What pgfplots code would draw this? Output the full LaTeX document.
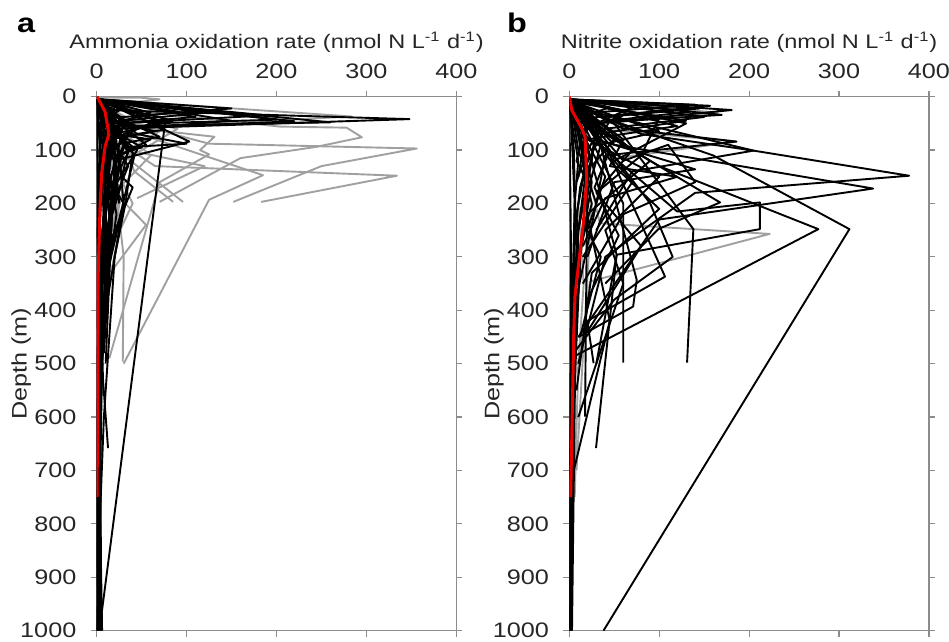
\documentclass[border=0pt]{standalone}
\usepackage{fontspec}
\setmainfont[FakeStretch=1.2]{Liberation Sans}
\usepackage{pgfplots}
\pgfplotsset{compat=1.18}
\definecolor{axgray}{RGB}{140,140,140}
\definecolor{txt}{RGB}{38,38,38}
\definecolor{profgray}{RGB}{160,160,160}
\definecolor{meanred}{RGB}{235,0,0}

\pgfplotsset{
  depthax/.style={
    scale only axis, width=179.8pt, height=267pt,
    anchor=south west,
    xmin=0, xmax=400, ymin=0, ymax=1000, y dir=reverse,
    xtick={0,100,...,400}, ytick={0,100,...,1000},
    xticklabel pos=upper,
    tick align=outside, major tick length=3pt,
    axis line style={axgray, line width=0.6pt},
    every tick/.style={axgray, line width=0.6pt},
    tick label style={font=\fontsize{10.5}{12}\selectfont, text=txt, inner sep=0pt},
    xticklabel shift=6pt,
    yticklabel shift=7pt,
    /pgf/number format/assume math mode=true,
    /pgf/number format/1000 sep={},
    no markers,
  },
  bk/.style={black, line width=0.95pt, line join=round},
  gr/.style={profgray, line width=0.95pt, line join=round},
  mn/.style={meanred, line width=1.5pt, line join=round},
}
\newcommand{\lblfont}{\fontsize{9.8}{11}\selectfont\color{txt}}
\newcommand{\ylblfont}{\fontsize{10.5}{12}\selectfont\color{txt}}

\begin{document}
\begin{tikzpicture}
\useasboundingbox (0,0) rectangle (474.5pt,321pt);

% ---------------- panel a: ammonia oxidation ----------------
\begin{axis}[depthax, name=A, at={(48.35pt,5.65pt)}]
% grey profiles
\addplot[gr] coordinates {(0,2)(50,2)(70,5)(55,8)(15,15)(10,40)};
\addplot[gr] coordinates {(3,5)(283,37)(80,55)(30,80)(15,150)};
\addplot[gr] coordinates {(2,10)(60,30)(204,56)(278,58)(295,76)(244,94)(160,115)(70,197)};
\addplot[gr] coordinates {(5,15)(40,50)(125,88)(356,97)(250,130)(152,197)};
\addplot[gr] coordinates {(3,20)(20,80)(65,130)(334,148)(183,197)};
\addplot[gr] coordinates {(2,20)(30,60)(185,147)(125,193)(30,500)};
\addplot[gr] coordinates {(4,25)(50,60)(131,75)(115,100)(125,108)(70,160)(14,490)};
\addplot[gr] coordinates {(2,10)(45,50)(30,110)(96,197)};
\addplot[gr] coordinates {(3,15)(25,70)(42,140)(85,197)};
\addplot[gr] coordinates {(2,30)(18,120)(30,300)(29,496)};
\addplot[gr] coordinates {(5,30)(90,60)(60,90)(20,130)(40,200)(12,300)};
\addplot[gr] coordinates {(3,40)(40,100)(18,160)(25,250)(8,400)};
\addplot[gr] coordinates {(2,20)(70,65)(35,100)(120,130)(45,190)};
\addplot[gr] coordinates {(1,10)(15,60)(35,80)(10,150)(20,220)(5,350)};
\addplot[gr] coordinates {(4,30)(60,110)(20,180)(55,240)(15,330)};
\addplot[gr] coordinates {(2,20)(22,90)(28,180)(18,260)(10,330)};
\addplot[gr] coordinates {(3,30)(15,110)(25,200)(12,280)};
% black profiles
\addplot[bk] coordinates {(2,5)(10,25)(348,42)(20,60)(10,100)(5,150)(3,200)};
\addplot[bk] coordinates {(3,5)(150,22)(15,40)(8,80)(5,150)};
\addplot[bk] coordinates {(2,5)(189,35)(25,50)(12,100)(8,200)};
\addplot[bk] coordinates {(1,5)(30,25)(103,84)(20,120)(10,200)};
\addplot[bk] coordinates {(5,10)(76,50)(3,1000)};
\addplot[bk] coordinates {(2,5)(25,40)(15,120)(9,250)(5,400)(7,530)(12.6,658)};
\addplot[bk] coordinates {(1,5)(60,30)(20,50)(12,100)(8,200)(4,400)(2,1000)};
\addplot[bk] coordinates {(2,5)(120,30)(30,45)(25,90)(15,200)(6,500)(3,800)(1,1000)};
\addplot[bk] coordinates {(1,5)(90,28)(40,40)(20,60)(25,130)(10,300)(4,600)(5,1000)};
\addplot[bk] coordinates {(2,5)(70,45)(15,80)(30,150)(12,250)(5,500)};
\addplot[bk] coordinates {(3,10)(45,60)(35,70)(15,150)(8,250)};
\addplot[bk] coordinates {(1,10)(25,20)(85,45)(18,70)(22,180)(6,300)};
\addplot[bk] coordinates {(2,5)(40,15)(20,25)(14,60)(45,100)(8,200)};
\addplot[bk] coordinates {(1,5)(10,30)(55,90)(10,120)(15,250)(5,450)};
\addplot[bk] coordinates {(1,5)(8,50)(20,70)(60,80)(25,110)(30,200)(10,400)};
\addplot[bk] coordinates {(2,5)(30,20)(12,40)(42,110)(15,300)(10,500)};
\addplot[bk] coordinates {(1,5)(12,25)(8,50)(35,130)(18,200)(6,500)(2,750)};
\addplot[bk] coordinates {(0.5,5)(5,50)(3,100)(4,300)(2,600)(1,1000)};
\addplot[bk] coordinates {(1,5)(18,40)(10,100)(6,300)(3,700)(6,1000)};
\addplot[bk] coordinates {(2,5)(50,10)(20,15)(10,30)(6,100)(3,200)};
\addplot[bk] coordinates {(1,5)(25,50)(10,70)(12,150)(30,200)(9,350)};
\addplot[bk] coordinates {(3,5)(150,45)(40,60)(20,100)(25,200)};
\addplot[bk] coordinates {(2,5)(260,48)(30,55)(10,100)(5,200)};
\addplot[bk] coordinates {(1,5)(220,46)(20,60)(12,120)};
\addplot[bk] coordinates {(2,5)(8,40)(65,65)(15,80)(10,150)};
\addplot[bk] coordinates {(1,5)(12,30)(70,75)(20,90)(8,150)};
\addplot[bk] coordinates {(2,10)(45,70)(100,88)(30,95)(12,200)};
\addplot[bk] coordinates {(1,10)(20,30)(15,60)(50,95)(20,110)(15,300)};
\addplot[bk] coordinates {(0,0)(8,20)(5,60)(15,120)(7,240)(3,400)};
\addplot[bk] coordinates {(1,0)(3,30)(12,80)(4,150)(10,250)(2,500)};
\addplot[bk] coordinates {(2,5)(25,10)(15,30)(20,70)(12,130)(22,220)(14,320)(8,480)};
\addplot[bk] coordinates {(0,5)(5,40)(25,60)(30,90)(20,180)(6,350)};
\addplot[bk] coordinates {(1,5)(35,100)(28,150)(40,170)(18,260)(4,420)};
\addplot[bk] coordinates {(2,5)(75,62)(25,75)(35,105)(12,180)};
\addplot[bk] coordinates {(1,5)(200,43)(60,50)(30,70)};
\addplot[bk] coordinates {(1,5)(110,38)(25,50)(15,90)};
\addplot[bk] coordinates {(0,5)(2,200)(1,500)(0.5,800)(2,1000)};
\addplot[bk] coordinates {(1,5)(40,105)(32,200)(20,300)(8,600)(1,900)};
\addplot[bk] coordinates {(0,5)(15,30)(6,70)(18,100)(9,160)(16,230)(5,320)};
\addplot[bk] coordinates {(1,5)(5,20)(20,45)(8,110)(14,180)(6,260)(3,500)};
\addplot[bk] coordinates {(0,5)(10,15)(4,60)(10,140)(20,170)(8,280)};
\addplot[bk] coordinates {(2,5)(18,25)(28,50)(12,90)(24,140)(10,210)(12,300)(4,450)};
\addplot[bk] coordinates {(0,5)(3,80)(6,150)(2,300)(1,600)(0,1000)};
\addplot[bk] coordinates {(1,5)(4,100)(1,250)(3,500)(1,750)(1,1000)};
\addplot[bk] coordinates {(0,5)(1,400)(2,700)(4,1000)};
\addplot[bk] coordinates {(0,5)(7,60)(30,80)(5,120)(10,190)(3,300)};
% mean profile
\addplot[mn] coordinates {(0,0)(1.5,3)(9.3,28)(13.6,70)(9.3,94)(5.6,143)(3.7,206)(1.5,343)(1,500)(0.5,750)};
\end{axis}

% ---------------- panel b: nitrite oxidation ----------------
\begin{axis}[depthax, name=B, at={(284.65pt,5.65pt)}]
% grey profiles
\addplot[gr] coordinates {(3,10)(34,237)(223,257)(23,346)(10,500)};
\addplot[gr] coordinates {(2,5)(165,30)(40,50)(20,100)};
\addplot[gr] coordinates {(1,5)(30,60)(186,84)(30,120)(15,200)};
\addplot[gr] coordinates {(2,10)(20,100)(10,200)(16,350)(10,500)(6,750)};
\addplot[gr] coordinates {(1,5)(25,200)(18,400)(8,700)};
% black profiles
\addplot[bk] coordinates {(2,5)(30,30)(205,101)(378,148)(140,180)(40,300)(10,500)};
\addplot[bk] coordinates {(1,5)(40,100)(120,215)(212,198)(212,248)(52.7,296)(30,500)};
\addplot[bk] coordinates {(2,5)(50,80)(100,130)(277,248)(4.5,487)};
\addplot[bk] coordinates {(1,5)(40,40)(160,110)(311.6,248)(38,1000)};
\addplot[bk] coordinates {(1,5)(50,50)(138,248)(131,498)};
\addplot[bk] coordinates {(2,5)(30,100)(60,200)(60,498)};
\addplot[bk] coordinates {(1,10)(40,90)(106.5,337)(20,420)(27,499)};
\addplot[bk] coordinates {(2,5)(20,50)(167.7,198)(99,248)(40,350)};
\addplot[bk] coordinates {(1,5)(25,30)(75,343)(71,393)(10,450)};
\addplot[bk] coordinates {(2,5)(15,60)(52.7,296)(29.7,658)};
\addplot[bk] coordinates {(1,5)(20,150)(17.5,599)};
\addplot[bk] coordinates {(1,5)(156.6,17)(20,40)(15,100)};
\addplot[bk] coordinates {(2,5)(180.7,25)(30,50)(25,120)(10,250)};
\addplot[bk] coordinates {(1,5)(169.6,34)(20,50)(10,150)};
\addplot[bk] coordinates {(1,5)(140,15)(25,30)(12,80)};
\addplot[bk] coordinates {(2,5)(150,38)(40,60)(25,100)};
\addplot[bk] coordinates {(3,10)(130,45)(30,70)(20,150)};
\addplot[bk] coordinates {(2,5)(120,55)(20,80)};
\addplot[bk] coordinates {(2,10)(60,60)(186,84)(40,110)(30,200)};
\addplot[bk] coordinates {(2,10)(80,70)(205,101)(70,140)(30,250)};
\addplot[bk] coordinates {(1,10)(30,80)(140,136)(50,160)(20,300)};
\addplot[bk] coordinates {(2,5)(60,120)(110,90)(140,160)(60,220)(15,350)};
\addplot[bk] coordinates {(1,5)(40,90)(90,200)(115,300)(50,380)(5,480)};
\addplot[bk] coordinates {(2,5)(70,100)(30,180)(80,280)(20,440)};
\addplot[bk] coordinates {(1,5)(20,80)(100,150)(40,250)(60,350)(10,600)};
\addplot[bk] coordinates {(2,10)(50,130)(100,210)(25,330)(8,550)};
\addplot[bk] coordinates {(1,5)(35,60)(90,120)(20,220)(45,420)(5,700)};
\addplot[bk] coordinates {(1,5)(10,100)(30,200)(5,400)(2,1000)};
\addplot[bk] coordinates {(0,5)(5,100)(8,300)(3,1000)};
\addplot[bk] coordinates {(1,5)(6,200)(4,500)(1,1000)};
\addplot[bk] coordinates {(2,5)(25,160)(12,300)(7,500)(2,750)};
\addplot[bk] coordinates {(2,5)(15,70)(40,150)(20,250)(35,300)(12,450)};
\addplot[bk] coordinates {(1,5)(130,50)(50,120)(70,160)(15,300)};
\addplot[bk] coordinates {(2,5)(100,40)(80,110)(30,180)};
\addplot[bk] coordinates {(2,5)(50,90)(338,172)(100,230)(10,450)};
\addplot[bk] coordinates {(1,5)(145,22)(60,35)(20,60)};
\addplot[bk] coordinates {(2,5)(135,28)(45,45)(30,90)};
\addplot[bk] coordinates {(0,5)(8,50)(20,120)(10,250)(4,500)(1,800)(0.5,1000)};
\addplot[bk] coordinates {(1,5)(60,80)(45,130)(120,150)(40,190)(15,280)};
\addplot[bk] coordinates {(2,5)(12,40)(45,100)(28,170)(55,260)(20,380)};
\addplot[bk] coordinates {(1,5)(70,20)(30,50)(50,80)(25,130)};
\addplot[bk] coordinates {(1,8)(100,65)(35,90)(20,180)};
\addplot[bk] coordinates {(0,5)(20,30)(10,60)(30,90)(15,140)(25,200)(10,300)};
\addplot[bk] coordinates {(1,5)(8,25)(25,50)(12,80)(18,130)(8,220)(12,330)(4,480)};
\addplot[bk] coordinates {(0,5)(12,15)(5,40)(15,70)(22,110)(12,170)(6,260)};
\addplot[bk] coordinates {(1,5)(30,45)(15,70)(8,120)(20,160)(10,250)(3,400)};
\addplot[bk] coordinates {(0,5)(4,60)(10,120)(6,200)(3,400)(1,700)(0,1000)};
\addplot[bk] coordinates {(0,5)(2,300)(1,600)(2,1000)};
\addplot[bk] coordinates {(2,5)(45,20)(18,35)(35,60)(20,100)(8,160)};
% mean profile
\addplot[mn] coordinates {(0,0)(0.8,6)(2.7,25)(13.8,59)(17.5,75)(19.4,156)(15.6,237)(10,318)(6.3,374)(5,440)(4,530)(1.5,750)};
\end{axis}

% axis titles and panel letters
\node[anchor=base, inner sep=0pt, font=\lblfont] at ([yshift=24pt]A.north)
  {Ammonia oxidation rate (nmol N L\textsuperscript{-1} d\textsuperscript{-1})};
\node[anchor=base, inner sep=0pt, font=\lblfont] at ([yshift=24pt]B.north)
  {Nitrite oxidation rate (nmol N L\textsuperscript{-1} d\textsuperscript{-1})};
\node[anchor=base, rotate=90, inner sep=0pt, font=\ylblfont] at ([xshift=-35pt]A.west) {Depth (m)};
\node[anchor=base, rotate=90, inner sep=0pt, font=\ylblfont] at ([xshift=-35pt]B.west) {Depth (m)};
\node[anchor=base west, inner sep=0pt, font=\fontsize{13.5}{15}\selectfont\bfseries] at (8.35pt,304.85pt) {a};
\node[anchor=base west, inner sep=0pt, font=\fontsize{13.5}{15}\selectfont\bfseries] at (253.3pt,304.85pt) {b};
\end{tikzpicture}
\end{document}
